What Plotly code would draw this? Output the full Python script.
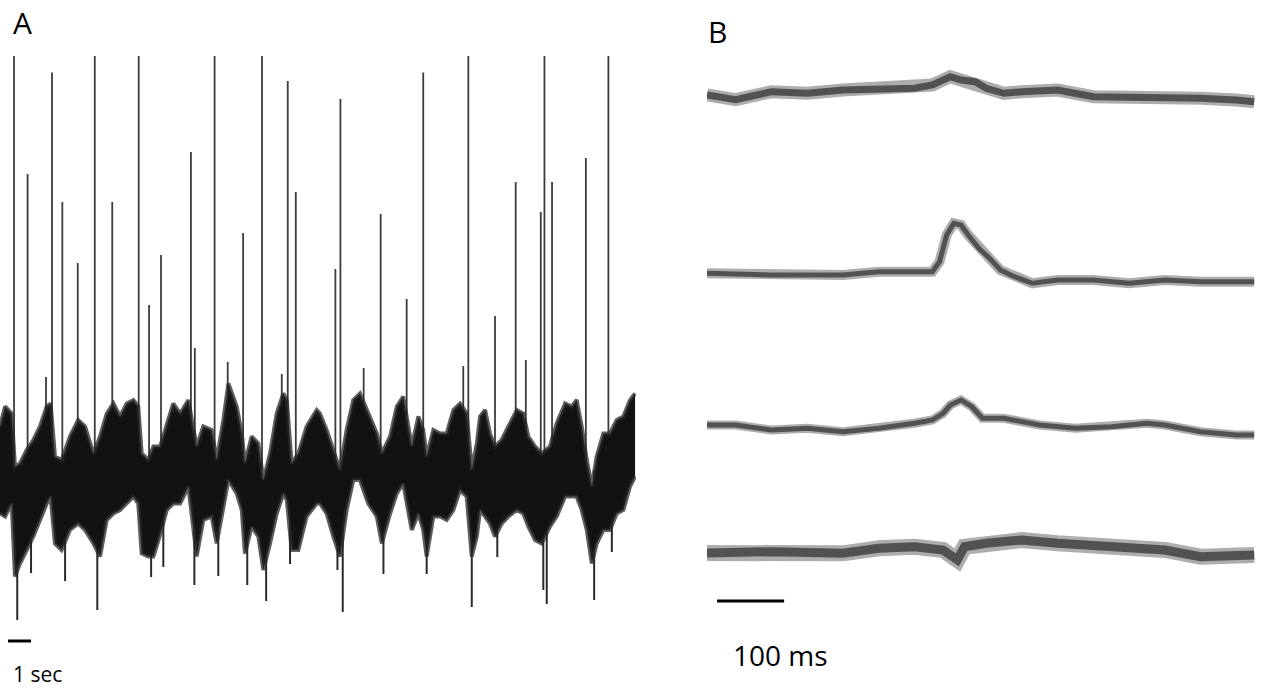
import plotly.graph_objects as go

# ---------------- Panel A: long recording (time in s, membrane potential in mV) ----------------
a_env_t = [0.00, 0.22, 0.51, 0.65, 0.87, 1.16, 1.45, 1.74, 2.03, 2.20, 2.39, 2.68, 3.04, 3.40, 3.70,
           4.06, 4.35, 4.64, 4.93, 5.22, 5.51, 5.80, 6.01, 6.16, 6.45, 6.67, 6.96, 7.25, 7.53, 7.83,
           8.19, 8.55, 8.84, 9.20, 9.42, 9.71, 9.93, 10.29, 10.51, 10.65, 10.94, 11.23, 11.45, 11.74,
           12.03, 12.32, 12.47, 12.68, 12.97, 13.33, 13.77, 13.91, 14.20, 14.49, 14.78, 15.07, 15.36,
           15.65, 16.01, 16.38, 16.60, 16.96, 17.25, 17.53, 17.68, 17.90, 18.19, 18.40, 18.55, 18.84,
           19.13, 19.42, 19.71, 20.00, 20.29, 20.51, 20.73, 20.87, 21.09, 21.30, 21.52, 21.81, 22.10,
           22.47, 22.75, 22.97, 23.26, 23.55, 23.91, 24.20, 24.57, 24.86, 25.07, 25.29, 25.51, 25.73,
           25.94, 26.23, 26.52, 26.81, 27.10, 27.39, 27.61]
a_env_top = [-51.3, -47.3, -48.7, -59.3, -58.7, -56.0, -54.0, -51.3, -47.3, -46.7, -57.3, -58.0, -53.3,
             -50.0, -51.3, -56.7, -53.3, -48.7, -46.7, -49.3, -46.7, -46.0, -47.3, -56.7, -58.0, -55.3,
             -55.3, -50.7, -46.7, -48.7, -46.0, -55.3, -51.3, -52.0, -58.0, -50.0, -42.7, -47.3, -52.7,
             -58.7, -53.3, -54.7, -62.0, -56.7, -48.7, -44.7, -46.0, -58.7, -56.7, -51.3, -48.0, -48.7,
             -52.0, -56.0, -60.0, -52.0, -46.0, -44.7, -48.7, -52.7, -56.7, -53.3, -47.3, -45.3, -49.3,
             -55.3, -49.3, -52.0, -57.3, -52.0, -52.7, -52.7, -48.0, -46.7, -48.7, -60.0, -54.7, -49.3,
             -48.0, -52.7, -55.3, -54.0, -51.3, -48.0, -48.7, -53.3, -55.3, -56.7, -55.3, -50.7, -46.7,
             -47.3, -46.0, -51.3, -58.0, -63.3, -57.3, -52.7, -52.7, -50.0, -49.3, -46.0, -44.7]
a_env_bottom = [-68.7, -69.3, -66.7, -81.3, -78.7, -76.0, -73.3, -70.0, -66.7, -65.3, -74.7, -76.0, -72.0,
                -70.7, -72.0, -74.7, -77.3, -70.0, -68.7, -68.0, -66.7, -65.3, -66.7, -76.7, -77.3, -77.3,
                -73.0, -68.0, -66.7, -66.7, -63.3, -77.3, -70.0, -69.3, -74.7, -68.0, -62.0, -64.7, -68.0,
                -76.7, -71.3, -73.3, -80.0, -74.7, -68.7, -64.7, -66.0, -76.0, -76.0, -69.3, -66.7, -66.7,
                -68.7, -73.3, -77.3, -68.0, -62.0, -62.0, -66.7, -69.3, -74.7, -68.7, -64.7, -62.7, -66.7,
                -72.0, -68.7, -72.0, -77.3, -69.3, -69.3, -70.0, -68.0, -64.0, -65.3, -77.3, -73.3, -68.0,
                -69.3, -70.7, -73.3, -70.7, -69.3, -68.0, -68.7, -71.3, -74.0, -74.7, -71.3, -69.3, -65.3,
                -65.3, -65.3, -68.0, -72.0, -78.7, -74.7, -72.0, -72.0, -68.7, -68.0, -63.3, -61.3]

spike_t = [0.61, 1.20, 2.00, 2.26, 2.71, 3.38, 4.12, 4.88, 6.03, 6.48, 7.00, 8.30, 8.47, 9.33, 9.90,
           10.57, 11.39, 12.25, 12.51, 12.86, 14.58, 14.80, 15.81, 16.55, 17.68, 18.40, 20.14, 20.36,
           21.52, 22.42, 22.86, 23.51, 23.67, 24.00, 25.47, 26.45]
spike_peak = [22.8, -0.8, -41.4, 19.5, -6.4, -18.6, 22.8, -6.4, 22.8, -27.0, -17.0, 3.6, -35.6, 22.8,
              -38.4, -12.6, 22.8, -40.8, 17.8, -4.4, -19.8, 14.2, -39.6, -8.8, -25.8, 19.5, -39.2, 22.8,
              -29.2, -2.4, -38.0, -8.4, 22.8, -2.4, 2.4, 22.8]

trough_t = [0.75, 1.35, 2.83, 4.23, 6.57, 7.10, 8.45, 9.49, 10.75, 11.57, 12.61, 14.67, 14.90, 16.67,
            18.55, 20.51, 21.62, 23.62, 23.77, 25.83, 26.60]
trough_v = [-90.0, -80.6, -82.2, -88.0, -81.4, -79.4, -83.0, -81.2, -83.0, -86.2, -78.8, -80.0, -88.4,
            -80.8, -80.8, -87.4, -77.4, -84.0, -86.8, -86.0, -76.4]

# ---------------- Panel B: four sweeps (time in ms, potential relative to baseline in mV) ----------------
b1_t = [0, 42.8, 96.2, 149.5, 202.8, 256.1, 309.4, 336.0, 362.7, 378.7, 400.0, 416.0, 442.6, 469.3,
        522.6, 575.9, 629.2, 682.5, 735.8, 789.1, 815.8]
b1_v = [0, -0.47, 0.33, 0.17, 0.5, 0.67, 0.67, 1.0, 1.83, 1.5, 1.33, 0.67, 0.17, 0.33, 0.5, -0.17,
        -0.17, -0.17, -0.33, -0.5, -0.67]

b2_t = [0, 96.2, 202.8, 256.1, 309.4, 336.0, 346.7, 357.3, 368.0, 378.7, 389.4, 405.3, 421.3, 437.3,
        458.6, 485.3, 522.6, 575.9, 629.2, 682.5, 735.8, 815.8]
b2_v = [0.17, 0, 0, 0.33, 0.33, 0.33, 1.33, 4.0, 5.17, 5.0, 4.0, 2.67, 1.67, 0.5, -0.17, -0.83, -0.5,
        -0.5, -0.83, -0.5, -0.67, -0.67]

b3_t = [0, 42.8, 96.2, 149.5, 202.8, 256.1, 309.4, 336.0, 352.0, 362.7, 378.7, 394.7, 410.6, 442.6,
        496.0, 549.2, 602.5, 655.8, 682.5, 735.8, 789.1, 815.8]
b3_v = [0, 0, -0.5, -0.33, -0.67, -0.33, 0.17, 0.5, 1.17, 2.0, 2.5, 1.83, 0.67, 0.67, 0, -0.33,
        -0.17, 0.17, 0, -0.67, -1.0, -1.0]

b4_t = [0, 96.2, 202.8, 256.1, 309.4, 352.0, 373.3, 384.0, 416.0, 469.3, 522.6, 575.9, 629.2, 682.5,
        735.8, 815.8]
b4_v = [0, 0.13, -0.03, 0.47, 0.63, 0.3, -0.7, 0.63, 0.97, 1.3, 0.97, 0.8, 0.63, 0.3, -0.37, -0.2]

b_traces = [(b1_t, b1_v), (b2_t, b2_v), (b3_t, b3_v), (b4_t, b4_v)]

fig = go.Figure()

# Panel A spikes and troughs (drawn first so the dense band covers their bases)
base_v = -60.0
sx, sy = [], []
for t, p in zip(spike_t, spike_peak):
    sx += [t, t, None]
    sy += [base_v, p, None]
fig.add_trace(go.Scatter(x=sx, y=sy, mode="lines", line=dict(color="#3c3c3c", width=1.8),
                         hoverinfo="skip", showlegend=False))
tx, ty = [], []
for t, v in zip(trough_t, trough_v):
    tx += [t, t, None]
    ty += [base_v, v, None]
fig.add_trace(go.Scatter(x=tx, y=ty, mode="lines", line=dict(color="#2a2a2a", width=2),
                         hoverinfo="skip", showlegend=False))

# Panel A band (dense noisy trace)
fig.add_trace(go.Scatter(x=a_env_t, y=a_env_top, mode="lines",
                         line=dict(color="rgba(40,40,40,0.75)", width=4),
                         hoverinfo="skip", showlegend=False))
fig.add_trace(go.Scatter(x=a_env_t, y=a_env_bottom, mode="lines", fill="tonexty",
                         fillcolor="#121212",
                         line=dict(color="rgba(40,40,40,0.75)", width=4),
                         hoverinfo="skip", showlegend=False))

# Panel B sweeps
outer_w = [13, 10, 9, 16]
inner_w = [7, 5, 5, 9]
for i, (t, v) in enumerate(b_traces):
    ya = "y%d" % (i + 2)
    fig.add_trace(go.Scatter(x=t, y=v, xaxis="x2", yaxis=ya, mode="lines",
                             line=dict(color="rgba(105,105,105,0.55)", width=outer_w[i]),
                             hoverinfo="skip", showlegend=False))
    fig.add_trace(go.Scatter(x=t, y=v, xaxis="x2", yaxis=ya, mode="lines",
                             line=dict(color="#525252", width=inner_w[i]),
                             hoverinfo="skip", showlegend=False))

W, H = 1266, 689
hidden = dict(visible=False, showgrid=False, zeroline=False, fixedrange=True)

def frac_y(px):
    return 1 - px / H

layout = dict(
    width=W, height=H, margin=dict(l=0, r=0, t=0, b=0),
    paper_bgcolor="white", plot_bgcolor="white",
    xaxis=dict(domain=[0, 636 / W], range=[0, 27.65], **hidden),
    yaxis=dict(domain=[0, 1], range=[-103.8, 34], **hidden),
    xaxis2=dict(domain=[707 / W, 1257 / W], range=[0, 820], anchor="y2", **hidden),
)
b_base_px = [95, 275, 425, 553]
for i, b in enumerate(b_base_px):
    layout["yaxis%d" % (i + 2)] = dict(domain=[frac_y(b + 30), frac_y(b - 60)], range=[-3, 6],
                                      anchor="x2", **hidden)
fig.update_layout(**layout)

# scale bars
fig.add_shape(type="line", xref="x", yref="y", x0=0.35, x1=1.35, y0=-94.2, y1=-94.2,
              line=dict(color="black", width=3))
fig.add_shape(type="line", xref="x2", yref="paper", x0=15, x1=115, y0=frac_y(601), y1=frac_y(601),
              line=dict(color="black", width=3))

font = "Open Sans, Liberation Sans, Arial, sans-serif"
fig.add_annotation(text="A", xref="paper", yref="paper", x=22.5 / W, y=frac_y(23), showarrow=False,
                   xanchor="center", yanchor="middle", font=dict(family=font, size=30, color="black"))
fig.add_annotation(text="B", xref="paper", yref="paper", x=717 / W, y=frac_y(31), showarrow=False,
                   xanchor="center", yanchor="middle", font=dict(family=font, size=30, color="black"))
fig.add_annotation(text="1 sec", xref="paper", yref="paper", x=37.5 / W, y=0.0, showarrow=False,
                   xanchor="center", yanchor="bottom", borderpad=0,
                   font=dict(family=font, size=21, color="black"))
fig.add_annotation(text="100 ms", xref="paper", yref="paper", x=780 / W, y=frac_y(655), showarrow=False,
                   xanchor="center", yanchor="middle", font=dict(family=font, size=28, color="black"))

fig.write_html("out.html", config={"displayModeBar": False, "staticPlot": True},
               post_script="document.body.style.margin='0';document.body.style.overflow='hidden';")
